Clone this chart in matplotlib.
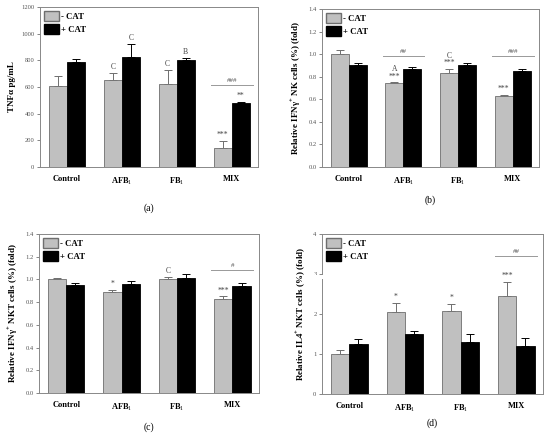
import matplotlib
matplotlib.use('Agg')
import matplotlib.pyplot as plt
import numpy as np
from matplotlib.patches import Patch, Rectangle

plt.rcParams['font.family'] = ['Liberation Serif', 'DejaVu Serif']
plt.rcParams['mathtext.fontset'] = 'custom'
plt.rcParams['mathtext.rm'] = 'Liberation Serif'
plt.rcParams['mathtext.bf'] = 'Liberation Serif:bold'

groups = ['Control', 'AFB$_1$', 'FB$_1$', 'MIX']

# (a) TNFa pg/mL
tnf_minus = [605, 650, 622, 143]
tnf_minus_err = [80, 55, 105, 55]
tnf_plus = [788, 825, 800, 478]
tnf_plus_err = [22, 100, 15, 8]

# (b) IFNg+ NK cells
nk_minus = [1.0, 0.74, 0.835, 0.63]
nk_minus_err = [0.04, 0.01, 0.035, 0.01]
nk_plus = [0.905, 0.87, 0.90, 0.85]
nk_plus_err = [0.015, 0.012, 0.02, 0.018]

# (c) IFNg+ NKT cells
nkt_minus = [1.0, 0.89, 1.005, 0.83]
nkt_minus_err = [0.015, 0.02, 0.02, 0.02]
nkt_plus = [0.95, 0.96, 1.015, 0.94]
nkt_plus_err = [0.02, 0.025, 0.03, 0.025]

# (d) IL4+ NKT cells
il4_minus = [1.0, 2.05, 2.08, 2.45]
il4_minus_err = [0.1, 0.23, 0.18, 0.35]
il4_plus = [1.25, 1.5, 1.3, 1.2]
il4_plus_err = [0.12, 0.07, 0.2, 0.2]

GRAY = '#c0c0c0'
EDGE = '#6e6e6e'
W = 0.33


def panel(rect, minus, minus_err, plus, plus_err, ylim, yticks, fmt, ylabel, tag, tag_y,
          marks_minus, marks_plus, lines):
    ax = fig.add_axes(rect)
    x = np.arange(len(groups))
    xm = x - W / 2
    xp = x + W / 2
    ax.bar(xm, minus, W, color=GRAY, edgecolor=EDGE, linewidth=0.6, zorder=2)
    ax.bar(xp, plus, W, color='black', edgecolor='black', linewidth=0.6, zorder=2)
    ax.errorbar(xm, minus, yerr=[np.zeros(4), minus_err], fmt='none', ecolor=EDGE,
                elinewidth=0.7, capsize=2.8, capthick=0.7, zorder=1)
    ax.errorbar(xp, plus, yerr=[np.zeros(4), plus_err], fmt='none', ecolor='black',
                elinewidth=0.7, capsize=2.8, capthick=0.7, zorder=1)
    ax.set_xlim(-0.49, 3.48)
    ax.set_ylim(*ylim)
    ax.set_yticks(yticks)
    ax.set_yticklabels([fmt.format(v) for v in yticks], fontsize=4.7, color='#444444')
    ax.set_xticks(x)
    ax.set_xticklabels(groups, fontsize=6, fontweight='bold')
    ax.tick_params(axis='x', length=0, pad=6)
    ax.tick_params(axis='y', length=2, width=0.5, pad=2, colors='#555555')
    for s in ax.spines.values():
        s.set_color('#888888')
        s.set_linewidth(0.7)
    ax.set_ylabel(ylabel, fontsize=6.5, fontweight='bold', labelpad=4)
    span = ylim[1] - ylim[0]
    for i, txt in marks_minus.items():
        top = minus[i] + minus_err[i] + span * 0.012
        for k, t in enumerate(txt):
            ax.text(xm[i], top + k * span * 0.045, t, ha='center', va='bottom',
                    fontsize=5.5, color='#444444')
    for i, txt in marks_plus.items():
        top = plus[i] + plus_err[i] + span * 0.012
        for k, t in enumerate(txt):
            ax.text(xp[i], top + k * span * 0.045, t, ha='center', va='bottom',
                    fontsize=5.5, color='#444444')
    for i, yv, t in lines:
        ax.plot([i - 0.38, i + 0.38], [yv, yv], color='#999999', lw=0.7)
        ax.text(i, yv + span * 0.015, t, ha='center', va='bottom', fontsize=5,
                color='#555555')
    ax.legend(handles=[Patch(facecolor=GRAY, edgecolor=EDGE, label='- CAT'),
                       Patch(facecolor='black', edgecolor='black', label='+ CAT')],
              loc='upper left', bbox_to_anchor=(-0.01, 1.015), frameon=False,
              prop={'size': 6.3, 'weight': 'bold'}, handlelength=1.7,
              handleheight=1.5, handletextpad=0.2, labelspacing=0.25,
              borderpad=0.2)
    fig.text(rect[0] + rect[2] / 2, tag_y, tag, ha='center', va='center', fontsize=7)
    return ax


fig = plt.figure(figsize=(5.5, 4.41), dpi=100)


def r(l, t, rt, b):
    return [l / 550, 1 - b / 441, (rt - l) / 550, (b - t) / 441]


panel(r(40, 7, 258, 167), tnf_minus, tnf_minus_err, tnf_plus, tnf_plus_err,
      (0, 1200), [0, 200, 400, 600, 800, 1000, 1200], '{:.0f}', 'TNFα pg/mL',
      '(a)', 1 - 208 / 441,
      {1: ['C'], 2: ['C'], 3: ['***']}, {1: ['C'], 2: ['B'], 3: ['**']},
      [(3, 615, '###')])

panel(r(322, 9, 539, 167), nk_minus, nk_minus_err, nk_plus, nk_plus_err,
      (0, 1.4), [0, 0.2, 0.4, 0.6, 0.8, 1.0, 1.2, 1.4], '{:.1f}',
      'Relative IFNγ$^{\\mathbf{+}}$ NK cells (%) (fold)',
      '(b)', 1 - 200 / 441,
      {1: ['***', 'A'], 2: ['***', 'C'], 3: ['***']}, {},
      [(1, 0.98, '##'), (3, 0.98, '###')])

panel(r(39, 234, 259, 393), nkt_minus, nkt_minus_err, nkt_plus, nkt_plus_err,
      (0, 1.4), [0, 0.2, 0.4, 0.6, 0.8, 1.0, 1.2, 1.4], '{:.1f}',
      'Relative IFNγ$^{\\mathbf{+}}$ NKT cells (%) (fold)',
      '(c)', 1 - 427 / 441,
      {1: ['*'], 2: ['C'], 3: ['***']}, {},
      [(3, 1.08, '#')])

axd = panel(r(322, 234, 543, 394), il4_minus, il4_minus_err, il4_plus, il4_plus_err,
            (0, 4), [0, 1, 2, 3, 4], '{:.0f}',
            'Relative IL4$^{\\mathbf{+}}$ NKT cells (%) (fold)',
            '(d)', 1 - 423 / 441,
            {1: ['*'], 2: ['*'], 3: ['***']}, {},
            [(3, 3.45, '##')])
# small white gap on the left axis near 3, as in the source image
axd.add_patch(Rectangle((-0.09, 2.87 / 4), 0.1, 0.11 / 4, transform=axd.transAxes,
                        facecolor='white', edgecolor='none', clip_on=False, zorder=5))

plt.savefig('out.png', dpi=100)
